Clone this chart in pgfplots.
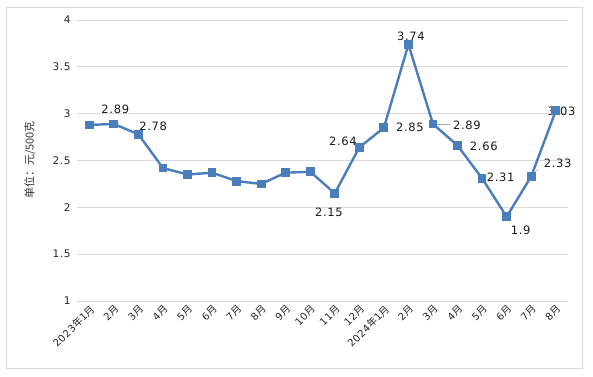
\documentclass[border=0pt]{standalone}
\usepackage{pgfplots}
\pgfplotsset{compat=1.18}
\usepackage{fontspec}
\setmainfont[LetterSpace=6]{DejaVu Sans}
\newfontfamily\cjk{Noto Sans CJK SC}
\definecolor{lineblue}{RGB}{74,126,187}
\definecolor{gridgray}{RGB}{217,217,217}
\begin{document}
\begin{tikzpicture}
\useasboundingbox (-77pt,-75pt) rectangle (516pt,301pt);
\draw[gridgray, line width=0.8pt] (-71pt,-67pt) rectangle (505pt,294pt);
\begin{axis}[
  name=ax, at={(0,0)}, anchor=south west,
  scale only axis, width=491pt, height=281pt,
  xmin=-0.5, xmax=19.5, ymin=1, ymax=4,
  ytick={1,1.5,2,2.5,3,3.5,4},
  xtick={0,...,19},
  xticklabels={2023{\cjk 年}1{\cjk 月},2{\cjk 月},3{\cjk 月},4{\cjk 月},5{\cjk 月},6{\cjk 月},7{\cjk 月},8{\cjk 月},9{\cjk 月},10{\cjk 月},11{\cjk 月},12{\cjk 月},2024{\cjk 年}1{\cjk 月},2{\cjk 月},3{\cjk 月},4{\cjk 月},5{\cjk 月},6{\cjk 月},7{\cjk 月},8{\cjk 月}},
  ymajorgrids, major grid style={gridgray, line width=0.8pt},
  axis line style={draw=none}, tick style={draw=none},
  x tick label style={rotate=45, anchor=north east, font=\fontsize{10}{11}\selectfont, text=black!85, inner sep=2pt},
  y tick label style={font=\fontsize{10.5}{12}\selectfont, text=black!85, /pgf/number format/assume math mode=true, xshift=-3pt},
  clip=false,
]
\addplot[color=lineblue, line width=2.4pt, mark=square*, mark size=3.2pt, mark options={solid, fill=lineblue}] coordinates {
(0,2.88) (1,2.89) (2,2.78) (3,2.42) (4,2.35) (5,2.37) (6,2.28) (7,2.25) (8,2.37) (9,2.38)
(10,2.15) (11,2.64) (12,2.85) (13,3.74) (14,2.89) (15,2.66) (16,2.31) (17,1.9) (18,2.33) (19,3.03)};
\draw[gray!70, line width=0.6pt] (axis cs:14.1,2.89) -- (axis cs:14.7,2.89);
\draw[gray!60, line width=0.6pt] (axis cs:18.1,2.36) -- (axis cs:18.3,2.41);
\draw[gray!60, line width=0.6pt] (axis cs:9.9,2.17) -- (axis cs:9.8,2.21);
\begin{scope}[every node/.style={font=\fontsize{11.5}{13}\selectfont, text=black!90, inner sep=0pt}]
\node at (axis cs:1.06,3.05) {2.89};
\node at (axis cs:2.6,2.86) {2.78};
\node at (axis cs:9.76,1.95) {2.15};
\node at (axis cs:10.33,2.71) {2.64};
\node at (axis cs:13.06,2.85) {2.85};
\node at (axis cs:13.1,3.83) {3.74};
\node at (axis cs:15.38,2.88) {2.89};
\node at (axis cs:16.07,2.65) {2.66};
\node at (axis cs:16.76,2.32) {2.31};
\node at (axis cs:17.57,1.76) {1.9};
\node at (axis cs:19.08,2.47) {2.33};
\node at (axis cs:19.24,3.02) {3.03};
\end{scope}
\end{axis}
\node[rotate=90, font=\cjk\fontsize{11}{13}\selectfont, text=black!80] at (-47pt,141pt) {单位：元/500克};
\end{tikzpicture}
\end{document}
